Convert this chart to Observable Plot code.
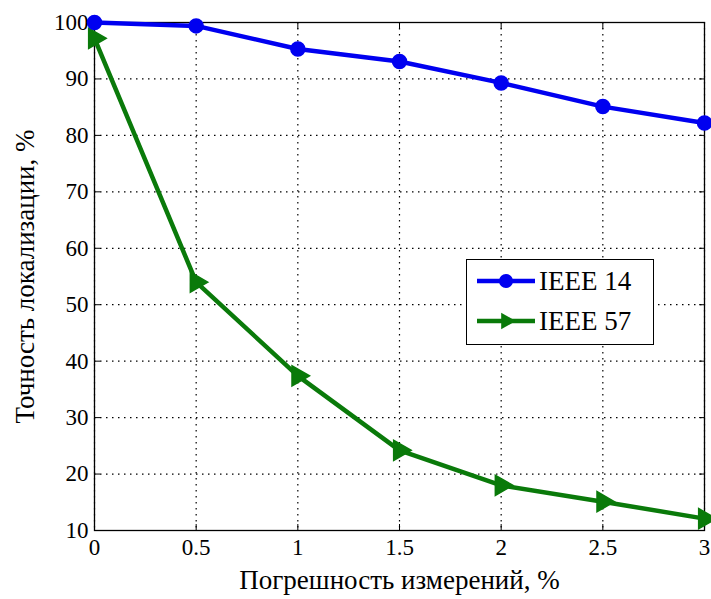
<!DOCTYPE html>
<html><head><meta charset="utf-8">
<script src="https://cdn.jsdelivr.net/npm/d3@7"></script>
<script src="https://cdn.jsdelivr.net/npm/@observablehq/plot@0.6"></script>
<style>
body{margin:0;background:#fff;}
#wrap{position:relative;width:711px;height:599px;}
#legend{position:absolute;left:466px;top:259px;width:186px;height:84px;border:1.5px solid #000;background:#fff;font-size:25px;}
</style></head>
<body><div id="wrap"><div id="legend"></div></div>
<script>
const errors = [0, 0.5, 1, 1.5, 2, 2.5, 3];
const ieee14 = [100, 99.4, 95.3, 93.1, 89.3, 85.1, 82.2];
const ieee57 = [97.2, 54, 37.4, 24.2, 18, 15.1, 12.1];
const seriesNames = ["IEEE 14", "IEEE 57"];
const colors = ["#0000f0", "#0a7a0a"];
const xTicks = [0, 0.5, 1, 1.5, 2, 2.5, 3];
const yTicks = [10, 20, 30, 40, 50, 60, 70, 80, 90, 100];
const SERIF = "'Liberation Serif', 'Times New Roman', serif";

const d14 = errors.map((x, i) => ({x, y: ieee14[i]}));
const d57 = errors.map((x, i) => ({x, y: ieee57[i]}));

const chart = Plot.plot({
  width: 711, height: 599,
  marginLeft: 94, marginRight: 7, marginTop: 22, marginBottom: 69,
  style: {fontSize: "22px", color: "#000", background: "#fff"},
  x: {domain: [0, 3]},
  y: {domain: [10, 100]},
  marks: [
    Plot.gridX(xTicks, {stroke: "#000", strokeOpacity: 1, strokeDasharray: "1.5,4.5", strokeWidth: 1.2}),
    Plot.gridY(yTicks, {stroke: "#000", strokeOpacity: 1, strokeDasharray: "1.5,4.5", strokeWidth: 1.2}),
    Plot.axisX(xTicks, {tickSize: -6, tickPadding: 14, tickFormat: d => String(d), fontSize: 23, label: "Погрешность измерений, %", labelAnchor: "center", labelArrow: "none", labelOffset: 58}),
    Plot.axisX(xTicks, {anchor: "top", tickSize: -6, tickFormat: () => "", label: null}),
    Plot.axisY(yTicks, {tickSize: -6, tickPadding: 12, fontSize: 23, label: "Точность локализации, %", labelAnchor: "center", labelArrow: "none", labelOffset: 80}),
    Plot.axisY(yTicks, {anchor: "right", tickSize: -6, tickFormat: () => "", label: null}),
    Plot.frame({stroke: "#000", strokeWidth: 1.3}),
    Plot.line(d57, {x: "x", y: "y", stroke: colors[1], strokeWidth: 4.5}),
    Plot.dot(d57, {x: "x", y: "y", symbol: "triangle", rotate: 90, r: 7.5, fill: colors[1], stroke: colors[1]}),
    Plot.line(d14, {x: "x", y: "y", stroke: colors[0], strokeWidth: 4.5}),
    Plot.dot(d14, {x: "x", y: "y", symbol: "circle", r: 7, fill: colors[0], stroke: colors[0]})
  ]
});
chart.querySelectorAll('[aria-label="x-axis label"] text, [aria-label="y-axis label"] text').forEach(t => t.setAttribute("font-size", "27"));
document.getElementById("wrap").prepend(chart);

// legend
const leg = d3.select("#legend");
const lsvg = leg.append("svg").attr("width", 186).attr("height", 84).style("position","absolute").style("left",0).style("top",0);
const symbols = [d3.symbolCircle, d3.symbolTriangle];
seriesNames.forEach((name, i) => {
  const cy = 21 + i * 40;
  lsvg.append("line").attr("x1", 10).attr("x2", 68).attr("y1", cy).attr("y2", cy).attr("stroke", colors[i]).attr("stroke-width", 4.5);
  lsvg.append("path").attr("d", d3.symbol(symbols[i], i === 0 ? 154 : 120)()).attr("transform", `translate(39,${cy}) rotate(${i === 0 ? 0 : 90})`).attr("fill", colors[i]);
  lsvg.append("text").attr("x", 72).attr("y", cy + 9).text(name).attr("font-size", 27).attr("fill", "#000");
});

function applyFont() {
  document.querySelectorAll("#wrap svg, #wrap svg text, #wrap svg g, #legend").forEach(el => {
    el.setAttribute("font-family", SERIF);
    el.style.setProperty("font-family", SERIF, "important");
  });
}
applyFont();
</script>
</body></html>
